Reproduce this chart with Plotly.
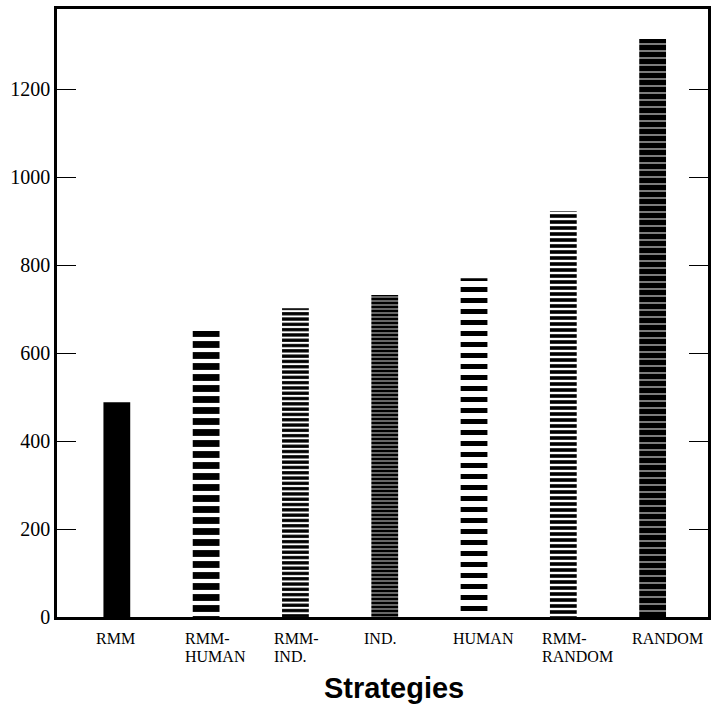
import plotly.graph_objects as go

categories = ["RMM", "RMM-HUMAN", "RMM-IND.", "IND.", "HUMAN", "RMM-RANDOM", "RANDOM"]
tick_labels = ["RMM", "RMM-<br>HUMAN", "RMM-<br>IND.", "IND.", "HUMAN", "RMM-<br>RANDOM", "RANDOM"]
values = [488, 650, 702, 732, 770, 922, 1314]
y_ticks = [0, 200, 400, 600, 800, 1000, 1200]
x_title = "Strategies"

# pattern styles per bar: (shape, size, solidity)
patterns = [
    ("", 8, 1.0),
    ("-", 11, 0.62),
    ("-", 5.3, 0.62),
    ("-", 4, 0.8),
    ("-", 11, 0.45),
    ("-", 6, 0.6),
    ("-", 7, 0.86),
]

x_pos = list(range(len(categories)))

fig = go.Figure()
for i, (cat, v) in enumerate(zip(categories, values)):
    shape, size, sol = patterns[i]
    if shape == "":
        marker = dict(color="black", line=dict(width=0))
    else:
        marker = dict(color="white", line=dict(width=0),
                      pattern=dict(shape=shape, fgcolor="black", bgcolor="white",
                                   size=size, solidity=sol, fillmode="replace"))
    fig.add_trace(go.Bar(x=[x_pos[i]], y=[v], name=cat, width=0.30, marker=marker,
                         showlegend=False))

# category labels: left-aligned lines under each bar
annotations = []
for i, lab in enumerate(tick_labels):
    for j, line in enumerate(lab.split("<br>")):
        annotations.append(dict(
            x=x_pos[i], xref="x", y=0, yref="paper",
            text=line, showarrow=False,
            xanchor="left", yanchor="middle", xshift=-23, yshift=-21 - j * 18.5,
            font=dict(family="Liberation Serif", size=16, color="black"),
        ))
annotations.append(dict(
    x=0.5177, xref="paper", y=0, yref="paper",
    text="<b>" + x_title + "</b>", showarrow=False,
    xanchor="center", yanchor="middle", yshift=-71,
    font=dict(family="Liberation Sans", size=29, color="black"),
))

fig.update_layout(
    width=718, height=704,
    margin=dict(l=57, r=10, t=6, b=87),
    plot_bgcolor="white", paper_bgcolor="white",
    barmode="overlay",
    font=dict(family="Liberation Serif", color="black"),
    annotations=annotations,
)
fig.update_xaxes(
    range=[-0.67, 6.62],
    showticklabels=False,
    showline=True, linecolor="black", linewidth=2.5, mirror=True,
    showgrid=False, zeroline=False, ticks="",
)
fig.update_yaxes(
    range=[0, 1382],
    tickmode="array", tickvals=y_ticks, ticktext=[str(t) for t in y_ticks],
    tickfont=dict(family="Liberation Serif", size=20, color="black"),
    ticks="inside", ticklen=19, tickwidth=1, tickcolor="black",
    showline=True, linecolor="black", linewidth=2.5, mirror="ticks",
    showgrid=False, zeroline=False,
)

fig.write_html("out.html", config={"displayModeBar": False},
               post_script="document.body.style.margin='0';")
